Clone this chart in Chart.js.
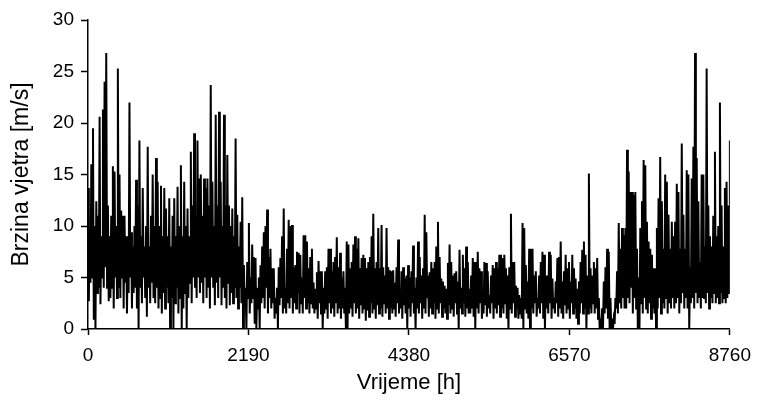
<!DOCTYPE html>
<html>
<head>
<meta charset="utf-8">
<script src="https://cdn.jsdelivr.net/npm/chart.js@4.4.1/dist/chart.umd.min.js"></script>
<style>
    html, body { margin: 0; padding: 0; background: #fff; }
    #wrap { width: 760px; height: 403px; }
</style>
</head>
<body>
<div id="wrap"><canvas id="windChart" width="760" height="403"></canvas></div>
<script>
// Hourly wind speed over one year, read off the plot as alternating
// local maxima (peaks) and minima (troughs), segment by segment.
const seg1Peaks = [13.7, 9, 16, 19.5, 10, 12.4, 11, 20.6, 9, 21.3, 24, 26.8, 12, 9, 11, 15.8, 15.3, 10, 25.3, 15, 11.5, 11, 11, 9, 8, 22, 9.4, 8, 10, 14.5, 12, 18.3, 9, 13.7, 8, 10, 17.7, 8, 11, 15, 10, 16.6];
const seg1Troughs = [2.7, 4.5, 5, 0.9, 0, 3.5, 4, 2.4, 5, 4, 6, 4, 2.7, 3, 4, 2, 5, 3, 4, 3, 5, 2, 4.5, 1.5, 3.5, 5, 2, 3.5, 4, 2, 0, 4, 2.5, 5, 3, 1.2, 4, 2.5, 4.5, 3, 2.5, 4];

const seg2Peaks = [14.3, 10, 13.9, 9, 13.7, 11.7, 9, 12.7, 8, 11, 12.7, 9, 13.8, 10, 15.9, 9, 14.3, 10, 11.7, 9, 17.2, 12, 19, 11, 18.3, 14.6, 15, 11, 14.6, 13.7, 14.6, 12, 23.7, 14.3, 10, 20.8, 12, 21.1, 14.3, 10, 20.8, 12, 16.9, 12, 10, 11.7, 9];
const seg2Troughs = [2, 3, 1.5, 3.5, 2, 4, 2.5, 0, 3, 0, 2.5, 4, 1.5, 3, 0, 2, 3.5, 0, 3, 4.5, 2.5, 5, 4, 3, 5, 3.5, 4.5, 2.5, 5, 3, 4, 2, 5, 4, 2.3, 4.5, 3, 5, 2.3, 4, 3, 2, 4.5, 2.3, 3.5, 2.5, 4];

const seg3Peaks = [18.5, 11.1, 8, 10.4, 12.8, 6.2, 4, 6.5, 10.3, 5, 8.2, 7, 6.9, 4, 5, 6.2, 8, 9.4, 10, 11.6, 7, 7.8, 5.9, 5.9, 3, 4, 6, 6.9, 9, 11.7, 4, 7.8, 10.6, 10, 10.1, 6, 6.2, 7.5, 7.4, 7.2, 5, 9.1, 9.1, 8.5, 5.9, 7, 7.8];
const seg3Troughs = [3, 2, 4, 2.5, 0, 2, 0, 3, 1.5, 2.5, 3, 0.5, 0, 2, 0, 2.5, 3, 2, 4, 1.5, 3, 2, 2.5, 1, 1.5, 0, 2.3, 3, 1.5, 2, 1.5, 2.5, 2, 3, 1.5, 2.5, 2, 3.5, 1.5, 2.5, 1.5, 3, 2, 2.5, 1.5, 2.5, 2];

const seg4Peaks = [4.5, 3.9, 5.5, 6.6, 5.6, 5.6, 4, 5.6, 6, 7.8, 7.8, 5.6, 6.5, 7, 8.9, 6, 7.4, 5, 5.6, 4, 8.5, 8.2, 5.9, 6.5, 8.2, 9, 7.8, 8.8, 5.9, 6.9, 7.2, 6.9, 5.9, 6.5, 7, 9, 11.2, 5.9, 6.5, 9.8, 5.9, 10.1, 6, 5.2, 9.8, 6, 5.7];
const seg4Troughs = [1.5, 2, 1, 2.5, 1.5, 0, 1.5, 2, 1, 2.5, 1.5, 2, 1.2, 2.5, 1.5, 2, 1, 2, 1.5, 0, 0, 1.5, 2, 1.2, 2.5, 1.5, 2, 1, 2.3, 1.5, 2, 0.8, 1.8, 1.2, 2.5, 1.5, 2, 1, 2.3, 1.5, 2, 1.2, 2.5, 1.5, 2, 1, 2];

const seg5Peaks = [5.6, 5.7, 4.5, 6, 8.7, 3.9, 5.6, 6, 4.9, 5.2, 6.2, 5, 5.6, 8.1, 4, 5, 8.5, 7, 5.2, 5.9, 11.1, 9.4, 5.2, 5.5, 6.5, 5.9, 6.5, 8, 10.4, 7, 4.9, 4.6, 4.2, 3.9, 6.4, 8.2, 6.5, 5.2, 5.4, 5.6, 4.6, 7.7, 4, 7.2, 5.9, 8, 6.5];
const seg5Troughs = [1.5, 2, 1.2, 2.5, 1.5, 2, 1, 2.3, 1.5, 0, 2, 1.2, 2.5, 1.5, 0, 2, 1.5, 2.5, 1, 2, 1.5, 3, 1.2, 2, 1.5, 2.5, 1, 2, 1.5, 2.5, 1.2, 2, 1.5, 1, 2.3, 1.5, 2, 1.2, 2.5, 1.5, 0, 2, 1.5, 2.5, 1.2, 2, 1.5];

const seg6Peaks = [3.9, 5.2, 6.9, 6.5, 6.5, 7.5, 5.9, 5.6, 3, 6.5, 6.4, 5.6, 3.3, 5.2, 6.2, 5.9, 6.5, 5.9, 7.2, 7.2, 6.9, 7.2, 5.9, 5.2, 6, 11.2, 6.5, 6.5, 4.2, 4, 3.3, 3, 10.3, 9.8, 6.2, 4.6, 7.8, 7.8, 7.8, 5.2, 5.6, 3, 5.2, 6.5, 7.5, 7.2, 5.2];
const seg6Troughs = [1.5, 2, 1.2, 0, 2, 1.5, 2.5, 1, 1.5, 2.3, 1.2, 2, 1.5, 2.5, 1, 2, 1.5, 2.3, 1.2, 2, 1.5, 2.5, 1, 0, 2, 1.5, 2.5, 1.2, 2, 1, 1.5, 1, 0, 2, 1.5, 1, 0, 2, 1.5, 2.5, 1.2, 2, 1.5, 2.5, 1, 0, 2];

const seg7Peaks = [5.2, 7.5, 7.2, 4.9, 3, 4.6, 6.9, 7, 8.5, 4.6, 5.6, 7.2, 5.9, 6.5, 4.6, 7.2, 5.9, 4.9, 3.9, 4.6, 6.5, 7.7, 8.5, 7.2, 5.2, 15.1, 5.9, 5.2, 6.5, 5.9, 6.9, 3, 1, 2, 4.6, 6, 7.8, 7.5, 3, 1, 1, 3, 5.6, 10.3, 7.8, 9.8, 9.1];
const seg7Troughs = [1.5, 2.5, 1, 2, 1.5, 2.5, 1.2, 2, 1.5, 1, 2.3, 1.5, 2, 1, 2.5, 1.5, 2, 1, 0.5, 1.5, 2.5, 1.5, 2, 0, 1.5, 2, 1.5, 2.5, 1.5, 2, 1, 0, 0, 0, 1.5, 2, 1, 0, 0, 0, 0.5, 2, 1.5, 2.5, 2, 3, 2];

const seg8Peaks = [9.8, 17.4, 15.3, 13.3, 13.3, 13, 13.3, 7.8, 5, 9.8, 12.4, 16.4, 15.9, 10.4, 8.5, 7.8, 7.2, 5.9, 5.9, 9.8, 12.7, 16.7, 12.4, 7.8, 15, 14.3, 11.1, 7.8, 10.4, 9, 10.4, 14.1, 13.3, 7.8, 18, 11.1, 7.8, 15.4, 15, 6, 14.6, 17.7, 26.8, 16.6, 12.4, 6.5, 15];
const seg8Troughs = [2, 3, 2.5, 4, 1.5, 3, 2, 0, 0, 2.5, 1.5, 3, 2, 1.5, 2.5, 1, 2, 1.5, 0, 2, 3, 1.5, 2.5, 2, 3, 1.5, 2.5, 2, 3, 2, 2.5, 3, 1.5, 2.5, 3.5, 2, 3, 2, 0, 2.5, 3, 2, 3.5, 2.5, 3, 2, 3];

const seg9Peaks = [15, 8, 25.3, 12, 9, 8, 11, 17.2, 9, 10, 22, 12, 8, 13.7, 14.3, 12, 18.3];
const seg9Troughs = [3, 2.5, 3.5, 2, 3, 2.5, 3.5, 2.5, 3, 2.5, 3.5, 2.5, 3, 2.5, 3, 3.5];

const hourMax = 8760;
const xTicks = [0, 2190, 4380, 6570, 8760];
const yTicks = [0, 5, 10, 15, 20, 25, 30];

const peaks = [].concat(seg1Peaks, seg2Peaks, seg3Peaks, seg4Peaks, seg5Peaks, seg6Peaks, seg7Peaks, seg8Peaks, seg9Peaks);
const troughs = [].concat(seg1Troughs, seg2Troughs, seg3Troughs, seg4Troughs, seg5Troughs, seg6Troughs, seg7Troughs, seg8Troughs, seg9Troughs);

// peak, trough, peak, trough ... in time order
const speeds = [];
peaks.forEach((p, i) => {
    speeds.push(p);
    if (i < troughs.length) speeds.push(troughs[i]);
});
const hourStep = hourMax / (speeds.length - 1);
const points = speeds.map((v, i) => ({ x: i * hourStep, y: v }));

const font = 'Liberation Sans, Arial, sans-serif';

new Chart(document.getElementById('windChart'), {
    type: 'line',
    data: {
        datasets: [{
            data: points,
            borderColor: '#000',
            borderWidth: 2,
            pointRadius: 0,
            tension: 0,
            fill: false
        }]
    },
    options: {
        responsive: false,
        animation: false,
        layout: { padding: { left: 0, right: 27, top: 20, bottom: 0 } },
        plugins: { legend: { display: false }, tooltip: { enabled: false } },
        scales: {
            x: {
                type: 'linear',
                min: 0,
                max: hourMax,
                afterBuildTicks: s => { s.ticks = xTicks.map(v => ({ value: v })); },
                afterFit: s => { s.height = 74; },
                grid: { drawOnChartArea: false, tickLength: 6, tickColor: '#000', tickWidth: 1.5 },
                border: { color: '#000', width: 1.5 },
                ticks: { color: '#000', font: { family: font, size: 19 }, padding: 9, maxRotation: 0, autoSkip: false,
                         callback: v => String(v) },
                title: { display: true, text: 'Vrijeme [h]', color: '#000', font: { family: font, size: 22 }, padding: { top: 0, bottom: 7 } }
            },
            y: {
                min: 0,
                max: 30,
                afterBuildTicks: s => { s.ticks = yTicks.map(v => ({ value: v })); },
                afterFit: s => { s.width = 88; },
                grid: { drawOnChartArea: false, tickLength: 7, tickColor: '#000', tickWidth: 1.5 },
                border: { color: '#000', width: 1.5 },
                ticks: { color: '#000', font: { family: font, size: 19 }, padding: 7, callback: v => String(v) },
                title: { display: true, text: 'Brzina vjetra [m/s]', color: '#000', font: { family: font, size: 23 }, padding: { top: 8, bottom: 0 } }
            }
        }
    }
});
</script>
</body>
</html>
